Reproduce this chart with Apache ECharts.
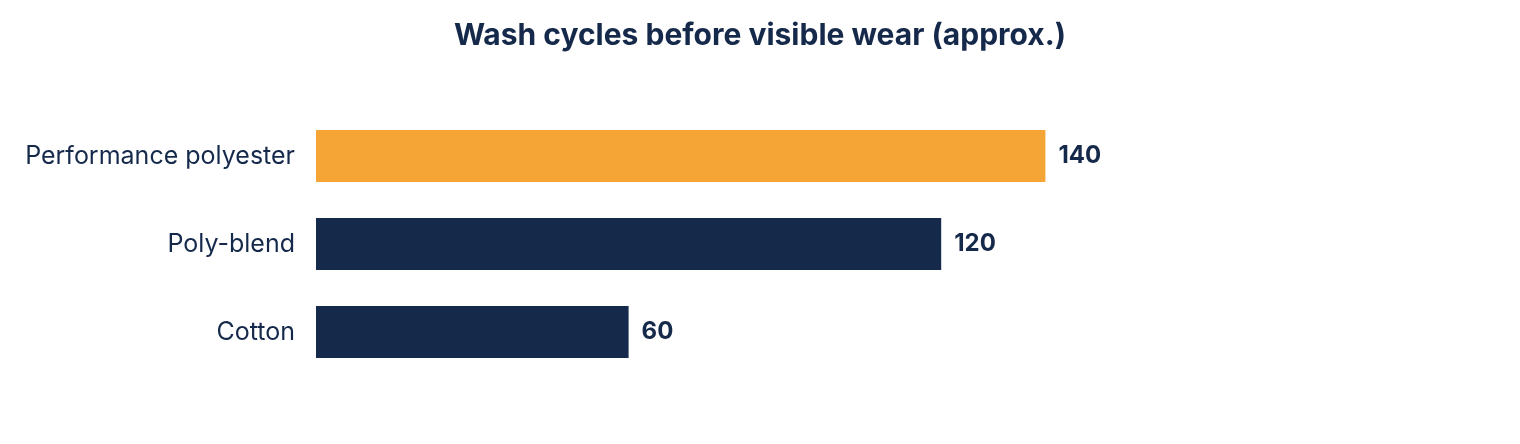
<!DOCTYPE html>
<html>
<head>
<meta charset="utf-8">
<script src="https://cdn.jsdelivr.net/npm/echarts@6/dist/echarts.min.js"></script>
<style>html,body{margin:0;padding:0;background:#fff}#main{width:1520px;height:444px}</style>
</head>
<body>
<div id="main"></div>
<script>
var categories = ['Cotton', 'Poly-blend', 'Performance polyester'];
var washCycles = [60, 120, 140];
var highlight = 'Performance polyester';

var navy = '#15294b';
var orange = '#f4a535';

var myChart = echarts.init(document.getElementById('main'));
myChart.setOption({
    title: {
        text: 'Wash cycles before visible wear (approx.)',
        left: 'center',
        top: 16,
        textStyle: { fontFamily: 'Inter', fontSize: 30, fontWeight: 'bold', color: navy }
    },
    grid: { left: 316, right: 162, top: 112, height: 264 },
    xAxis: {
        type: 'value',
        min: 0,
        max: 200,
        show: false
    },
    yAxis: {
        type: 'category',
        data: categories,
        axisLine: { show: false },
        axisTick: { show: false },
        axisLabel: { fontFamily: 'Inter', fontSize: 25, color: navy, margin: 21 }
    },
    series: [{
        type: 'bar',
        barWidth: 52,
        data: washCycles.map(function (v, i) {
            return { value: v, itemStyle: { color: categories[i] === highlight ? orange : navy } };
        }),
        label: {
            show: true,
            position: 'right',
            distance: 13,
            fontFamily: 'Inter',
            fontSize: 24,
            fontWeight: 'bold',
            color: navy
        }
    }]
});
</script>
</body>
</html>
